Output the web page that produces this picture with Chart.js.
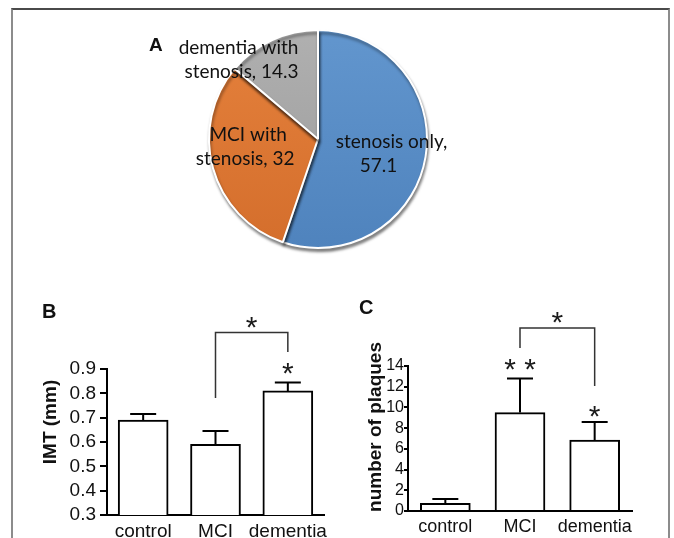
<!DOCTYPE html>
<html>
<head>
<meta charset="utf-8">
<script src="https://cdn.jsdelivr.net/npm/chart.js@4.4.1/dist/chart.umd.min.js"></script>
<style>
  body { margin: 0; background: #fff; }
  #wrap { position: relative; width: 674px; height: 538px; overflow: hidden; }
  #frame { position: absolute; left: 11px; top: 8px; width: 655px; height: 600px;
           border-top: 2px solid #4a4a4a; border-left: 2px solid #8c8c8c; border-right: 2px solid #8c8c8c; }
  canvas { position: absolute; }
</style>
</head>
<body>
<div id="wrap">
  <div id="frame"></div>
  <canvas id="pieChart" width="674" height="270" style="left:0;top:0"></canvas>
  <canvas id="imtChart" width="337" height="258" style="left:0;top:280px"></canvas>
  <canvas id="plaqueChart" width="337" height="258" style="left:337px;top:280px"></canvas>
</div>
<script>
// panel A
const pieLabels = ['stenosis only', 'MCI with stenosis', 'dementia with stenosis'];
const pieValues = [57.1, 32, 14.3];

// panels B and C
const groups = ['control', 'MCI', 'dementia'];
const imtMean = [0.69, 0.59, 0.81];
const imtSem = [0.025, 0.055, 0.035];
const imtTicks = [0.3, 0.4, 0.5, 0.6, 0.7, 0.8, 0.9];
const plaqueMean = [0.75, 9.5, 6.85];
const plaqueSem = [0.4, 3.3, 1.75];
const plaqueTicks = [0, 2, 4, 6, 8, 10, 12, 14];

// significance marks: bracket [from, to, left end, top, right end], stars [x, y, text]
const imtBracket = [1, 2, 0.781, 1.05, 0.97];
const imtStars = [[1.5, 1.093, '*'], [2, 0.902, '*']];
const plaqueBracket = [1, 2, 15.73, 17.66, 12.07];
const plaqueStars = [[1.5, 18.73, '*'], [1, 14.14, '* *'], [2, 9.65, '*']];

const pieTop = ['#6296ce', '#e5813c', '#b0b0b0'];
const pieBottom = ['#4f83bd', '#d46e2c', '#9a9a9a'];
// label anchor (fraction of radius) and x nudge of each line in px
const labelSpots = [[0.62, 0.08], [-0.65, 0.02], [-0.72, -0.78]];
const lineNudge = [[6, -7], [1, -2], [-1, 2]];

function pieFill(context) {
  const chart = context.chart;
  const i = context.dataIndex;
  if (!chart.chartArea) return pieTop[i];
  const g = chart.ctx.createLinearGradient(0, chart.chartArea.top, 0, chart.chartArea.bottom);
  g.addColorStop(0, pieTop[i]);
  g.addColorStop(1, pieBottom[i]);
  return g;
}

const pieShadow = {
  id: 'pieShadow',
  beforeDatasetsDraw(chart) {
    const ctx = chart.ctx;
    ctx.save();
    ctx.shadowColor = 'rgba(0,0,0,0.45)';
    ctx.shadowOffsetX = 1;
    ctx.shadowOffsetY = 3;
    ctx.shadowBlur = 3;
  },
  afterDatasetsDraw(chart) {
    chart.ctx.restore();
  }
};

const pieText = {
  id: 'pieText',
  afterDraw(chart) {
    const ctx = chart.ctx;
    const arc = chart.getDatasetMeta(0).data[0];
    const r = arc.outerRadius;
    ctx.save();
    ctx.fillStyle = '#111';
    ctx.textAlign = 'center';
    ctx.textBaseline = 'alphabetic';
    ctx.font = '19px Lato';
    pieLabels.forEach((name, i) => {
      const words = (name + ', ' + pieValues[i]).split(' ');
      const lines = [words.slice(0, 2).join(' '), words.slice(2).join(' ')];
      lines.forEach((t, j) => {
        ctx.fillText(t, arc.x + labelSpots[i][0] * r + lineNudge[i][j], arc.y + labelSpots[i][1] * r + j * 24);
      });
    });
    ctx.textAlign = 'left';
    ctx.font = 'bold 19px "Liberation Sans"';
    ctx.fillText('A', 149, 51);
    ctx.restore();
  }
};

new Chart(document.getElementById('pieChart'), {
  type: 'pie',
  data: {
    labels: pieLabels,
    datasets: [{
      data: pieValues,
      backgroundColor: pieFill,
      borderColor: '#ffffff',
      borderWidth: 2
    }]
  },
  options: {
    responsive: false,
    animation: false,
    layout: { padding: { left: 208, right: 246, top: 29, bottom: 21 } },
    plugins: { legend: { display: false }, tooltip: { enabled: false } }
  },
  plugins: [pieShadow, pieText]
});

// error bars, brackets, stars, letter and y title
const extras = {
  id: 'extras',
  afterDraw(chart, args, opts) {
    const ctx = chart.ctx;
    const x = chart.scales.x, y = chart.scales.y;
    ctx.save();
    ctx.strokeStyle = '#000';
    ctx.lineWidth = 2;
    opts.mean.forEach((m, i) => {
      const px = x.getPixelForValue(i);
      const top = y.getPixelForValue(m + opts.sem[i]);
      ctx.beginPath();
      ctx.moveTo(px, y.getPixelForValue(m));
      ctx.lineTo(px, top);
      ctx.moveTo(px - 13, top);
      ctx.lineTo(px + 13, top);
      ctx.stroke();
    });
    const b = opts.bracket;
    ctx.strokeStyle = '#333';
    ctx.lineWidth = 1.5;
    ctx.beginPath();
    ctx.moveTo(x.getPixelForValue(b[0]), y.getPixelForValue(b[2]));
    ctx.lineTo(x.getPixelForValue(b[0]), y.getPixelForValue(b[3]));
    ctx.lineTo(x.getPixelForValue(b[1]), y.getPixelForValue(b[3]));
    ctx.lineTo(x.getPixelForValue(b[1]), y.getPixelForValue(b[4]));
    ctx.stroke();
    ctx.fillStyle = '#1a1a1a';
    ctx.textAlign = 'center';
    ctx.textBaseline = 'alphabetic';
    ctx.font = '30px "Liberation Sans"';
    opts.stars.forEach(s => {
      const m = ctx.measureText(s[2]);
      const base = y.getPixelForValue(s[1]) + (m.actualBoundingBoxAscent - m.actualBoundingBoxDescent) / 2;
      ctx.fillText(s[2], x.getPixelForValue(s[0]), base);
    });
    ctx.fillStyle = '#111';
    ctx.textAlign = 'left';
    ctx.font = 'bold 20px "Liberation Sans"';
    ctx.fillText(opts.letter[0], opts.letter[1], opts.letter[2]);
    ctx.translate(opts.title[1], opts.title[2]);
    ctx.rotate(-Math.PI / 2);
    ctx.textAlign = 'center';
    ctx.textBaseline = 'middle';
    ctx.font = 'bold 19px "Liberation Sans"';
    ctx.fillText(opts.title[0], 0, 0);
    ctx.restore();
  }
};

function barChart(id, mean, sem, ticks, box, marks, fmt) {
  return new Chart(document.getElementById(id), {
    type: 'bar',
    data: {
      labels: groups,
      datasets: [{
        data: mean,
        backgroundColor: '#ffffff',
        borderColor: '#000000',
        borderWidth: 2,
        borderSkipped: 'bottom',
        barThickness: 50
      }]
    },
    options: {
      responsive: false,
      animation: false,
      layout: { padding: { left: 0, top: box.top, right: box.right, bottom: 0 } },
      scales: {
        x: {
          afterFit: s => { s.height = box.xh; },
          grid: { display: false, drawTicks: false },
          border: { display: true, color: '#000', width: 2 },
          ticks: {
            color: '#111', padding: 5, maxRotation: 0, minRotation: 0, autoSkip: false,
            font: { family: 'Liberation Sans', size: box.xFont }
          }
        },
        y: {
          min: ticks[0],
          max: ticks[ticks.length - 1],
          afterFit: s => { s.width = box.yw; },
          afterBuildTicks: s => { s.ticks = ticks.map(v => ({ value: v })); },
          grid: { drawOnChartArea: false, drawTicks: true, tickLength: box.tl, color: '#000', lineWidth: 2 },
          border: { display: true, color: '#000', width: 2 },
          ticks: {
            color: '#111', padding: box.tp, autoSkip: false,
            font: { family: 'Liberation Sans', size: box.yFont }, callback: fmt
          }
        }
      },
      plugins: {
        legend: { display: false },
        tooltip: { enabled: false },
        extras: Object.assign({ mean: mean, sem: sem }, marks)
      }
    },
    plugins: [extras]
  });
}

barChart('imtChart', imtMean, imtSem, imtTicks,
  { top: 89, right: 13, xh: 23, yw: 107, tl: 7, tp: 4, xFont: 19, yFont: 19 },
  { bracket: imtBracket, stars: imtStars, letter: ['B', 42, 38], title: ['IMT (mm)', 51, 142] },
  v => v.toFixed(1));

barChart('plaqueChart', plaqueMean, plaqueSem, plaqueTicks,
  { top: 86, right: 42, xh: 27, yw: 71, tl: 4, tp: 0, xFont: 18, yFont: 16 },
  { bracket: plaqueBracket, stars: plaqueStars, letter: ['C', 22, 34], title: ['number of plaques', 39, 147] },
  v => v);
</script>
</body>
</html>
